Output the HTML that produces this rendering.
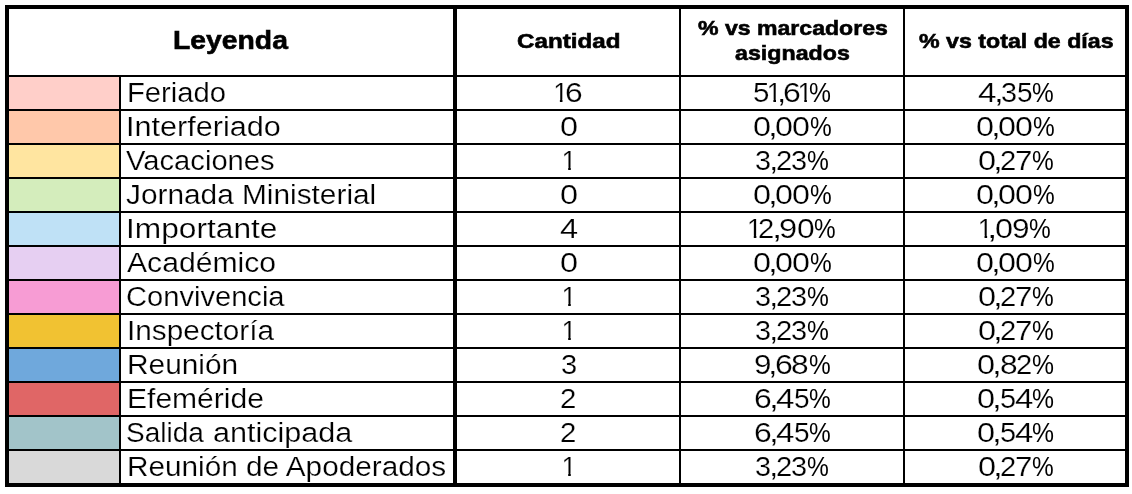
<!DOCTYPE html>
<html lang="es">
<head>
<meta charset="utf-8">
<title>Leyenda</title>
<style>
html,body{margin:0;padding:0;background:#fff}
body{width:1132px;height:494px;overflow:hidden;position:relative;font-family:"Liberation Sans", sans-serif;color:#000}
.g{position:absolute;background:#000}
.s{position:absolute;left:9px;width:110px;height:32px}
.t{position:absolute;white-space:nowrap;line-height:1;transform-origin:0 0;margin:0;padding:0}
.one{clip-path:polygon(0 0,100% 0,100% 19.8px,9.3px 19.8px,9.3px 100%,6.7px 100%,6.7px 19.8px,0 19.8px)}
.p{-webkit-text-stroke:0}
.n{position:absolute;left:0;width:0;height:0}
.b{font-size:27px;-webkit-text-stroke:0.2px #fff}
.hb{font-size:21px;font-weight:bold;-webkit-text-stroke:0.6px #000}
.hl{font-size:26px;font-weight:bold;-webkit-text-stroke:0.6px #000}
</style>
</head>
<body>
<div class="g" style="left:5px;top:5px;width:1124px;height:4px"></div>
<div class="g" style="left:5px;top:483px;width:1124px;height:4px"></div>
<div class="g" style="left:5px;top:5px;width:4px;height:482px"></div>
<div class="g" style="left:1125px;top:5px;width:4px;height:482px"></div>
<div class="g" style="left:119px;top:75px;width:2px;height:410px"></div>
<div class="g" style="left:453px;top:5px;width:4px;height:482px"></div>
<div class="g" style="left:679px;top:5px;width:2px;height:482px"></div>
<div class="g" style="left:903px;top:5px;width:2px;height:482px"></div>
<div class="g" style="left:5px;top:75px;width:1124px;height:2px"></div>
<div class="g" style="left:5px;top:109px;width:1124px;height:2px"></div>
<div class="g" style="left:5px;top:143px;width:1124px;height:2px"></div>
<div class="g" style="left:5px;top:177px;width:1124px;height:2px"></div>
<div class="g" style="left:5px;top:211px;width:1124px;height:2px"></div>
<div class="g" style="left:5px;top:245px;width:1124px;height:2px"></div>
<div class="g" style="left:5px;top:279px;width:1124px;height:2px"></div>
<div class="g" style="left:5px;top:313px;width:1124px;height:2px"></div>
<div class="g" style="left:5px;top:347px;width:1124px;height:2px"></div>
<div class="g" style="left:5px;top:381px;width:1124px;height:2px"></div>
<div class="g" style="left:5px;top:415px;width:1124px;height:2px"></div>
<div class="g" style="left:5px;top:449px;width:1124px;height:2px"></div>
<div class="s" style="top:77px;background:#FFCFC9"></div>
<div class="s" style="top:111px;background:#FFC8AA"></div>
<div class="s" style="top:145px;background:#FFE5A0"></div>
<div class="s" style="top:179px;background:#D4EDBC"></div>
<div class="s" style="top:213px;background:#BFE1F6"></div>
<div class="s" style="top:247px;background:#E6CFF2"></div>
<div class="s" style="top:281px;background:#F79CD4"></div>
<div class="s" style="top:315px;background:#F1C232"></div>
<div class="s" style="top:349px;background:#6FA8DC"></div>
<div class="s" style="top:383px;background:#E06666"></div>
<div class="s" style="top:417px;background:#A2C4C9"></div>
<div class="s" style="top:451px;background:#D9D9D9"></div>
<span class="t hl" style="left:172.60px;top:27.00px;transform:scaleX(1.0891)">Leyenda</span>
<span class="t hb" style="left:516.56px;top:30.40px;transform:scaleX(1.1510)">Cantidad</span>
<span class="t hb" style="left:697.56px;top:17.00px;transform:scaleX(1.0988)">% vs marcadores</span>
<span class="t hb" style="left:734.50px;top:42.00px;transform:scaleX(1.1054)">asignados</span>
<span class="t hb" style="left:918.50px;top:30.40px;transform:scaleX(1.1040)">% vs total de días</span>
<span class="t b" style="left:126.57px;top:80.00px;transform:scaleX(1.0816)">Feriado</span>
<span class="t b" style="left:125.55px;top:114.00px;transform:scaleX(1.1332)">Interferiado</span>
<span class="t b" style="left:125.60px;top:148.00px;transform:scaleX(1.0805)">Vacaciones</span>
<span class="t b" style="left:125.54px;top:182.00px;transform:scaleX(1.1042)">Jornada Ministerial</span>
<span class="t b" style="left:125.57px;top:216.00px;transform:scaleX(1.1731)">Importante</span>
<span class="t b" style="left:126.57px;top:250.00px;transform:scaleX(1.1159)">Académico</span>
<span class="t b" style="left:125.51px;top:284.00px;transform:scaleX(1.0780)">Convivencia</span>
<span class="t b" style="left:126.53px;top:318.00px;transform:scaleX(1.1002)">Inspectoría</span>
<span class="t b" style="left:126.54px;top:352.00px;transform:scaleX(1.1056)">Reunión</span>
<span class="t b" style="left:126.50px;top:386.00px;transform:scaleX(1.1127)">Efeméride</span>
<span class="t b" style="left:125.56px;top:420.00px;transform:scaleX(1.0376)">Salida </span><span class="t b" style="left:212.51px;top:420.00px;transform:scaleX(1.1318)">anticipada</span>
<span class="t b" style="left:126.57px;top:454.00px;transform:scaleX(1.1017)">Reunión de Apoderados</span>
<span class="n b" style="top:80.00px"><span class="t one" style="left:553.19px;top:0;transform:scaleX(1.0000)">1</span><span class="t" style="left:564.65px;top:0;transform:scaleX(1.1774)">6</span></span>
<span class="n b" style="top:80.00px"><span class="t" style="left:753.00px;top:0;transform:scaleX(1.0938)">5</span><span class="t one" style="left:766.69px;top:0;transform:scaleX(1.0000)">1</span><span class="t" style="left:776.72px;top:0;transform:scaleX(1.2308)">,</span><span class="t" style="left:783.44px;top:0;transform:scaleX(1.1855)">6</span><span class="t one" style="left:797.59px;top:0;transform:scaleX(1.0000)">1</span><span class="t p" style="left:809.09px;top:0;transform:scaleX(0.9136)">%</span></span>
<span class="n b" style="top:80.00px"><span class="t" style="left:978.16px;top:0;transform:scaleX(1.2279)">4</span><span class="t" style="left:994.03px;top:0;transform:scaleX(1.3077)">,</span><span class="t" style="left:1001.18px;top:0;transform:scaleX(1.0664)">3</span><span class="t" style="left:1016.66px;top:0;transform:scaleX(1.0391)">5</span><span class="t p" style="left:1031.70px;top:0;transform:scaleX(0.9045)">%</span></span>
<span class="n b" style="top:114.00px"><span class="t" style="left:559.68px;top:0;transform:scaleX(1.2016)">0</span></span>
<span class="n b" style="top:114.00px"><span class="t" style="left:752.63px;top:0;transform:scaleX(1.1977)">0</span><span class="t" style="left:768.03px;top:0;transform:scaleX(1.3077)">,</span><span class="t" style="left:774.89px;top:0;transform:scaleX(1.1938)">0</span><span class="t" style="left:792.39px;top:0;transform:scaleX(1.1938)">0</span><span class="t p" style="left:810.30px;top:0;transform:scaleX(0.9045)">%</span></span>
<span class="n b" style="top:114.00px"><span class="t" style="left:975.68px;top:0;transform:scaleX(1.1977)">0</span><span class="t" style="left:991.08px;top:0;transform:scaleX(1.3077)">,</span><span class="t" style="left:997.94px;top:0;transform:scaleX(1.1938)">0</span><span class="t" style="left:1015.44px;top:0;transform:scaleX(1.1938)">0</span><span class="t p" style="left:1033.35px;top:0;transform:scaleX(0.9045)">%</span></span>
<span class="n b" style="top:148.00px"><span class="t one" style="left:561.49px;top:0;transform:scaleX(1.0000)">1</span></span>
<span class="n b" style="top:148.00px"><span class="t" style="left:755.39px;top:0;transform:scaleX(1.0656)">3</span><span class="t" style="left:769.08px;top:0;transform:scaleX(1.2500)">,</span><span class="t" style="left:776.19px;top:0;transform:scaleX(1.0813)">2</span><span class="t" style="left:791.43px;top:0;transform:scaleX(1.0703)">3</span><span class="t p" style="left:806.99px;top:0;transform:scaleX(0.9091)">%</span></span>
<span class="n b" style="top:148.00px"><span class="t" style="left:977.58px;top:0;transform:scaleX(1.2016)">0</span><span class="t" style="left:992.93px;top:0;transform:scaleX(1.3077)">,</span><span class="t" style="left:999.99px;top:0;transform:scaleX(1.0813)">2</span><span class="t" style="left:1014.83px;top:0;transform:scaleX(1.1585)">7</span><span class="t p" style="left:1031.70px;top:0;transform:scaleX(0.9045)">%</span></span>
<span class="n b" style="top:182.00px"><span class="t" style="left:559.68px;top:0;transform:scaleX(1.2016)">0</span></span>
<span class="n b" style="top:182.00px"><span class="t" style="left:752.63px;top:0;transform:scaleX(1.1977)">0</span><span class="t" style="left:768.03px;top:0;transform:scaleX(1.3077)">,</span><span class="t" style="left:774.89px;top:0;transform:scaleX(1.1938)">0</span><span class="t" style="left:792.39px;top:0;transform:scaleX(1.1938)">0</span><span class="t p" style="left:810.30px;top:0;transform:scaleX(0.9045)">%</span></span>
<span class="n b" style="top:182.00px"><span class="t" style="left:975.68px;top:0;transform:scaleX(1.1977)">0</span><span class="t" style="left:991.08px;top:0;transform:scaleX(1.3077)">,</span><span class="t" style="left:997.94px;top:0;transform:scaleX(1.1938)">0</span><span class="t" style="left:1015.44px;top:0;transform:scaleX(1.1938)">0</span><span class="t p" style="left:1033.35px;top:0;transform:scaleX(0.9045)">%</span></span>
<span class="n b" style="top:216.00px"><span class="t" style="left:560.08px;top:0;transform:scaleX(1.2059)">4</span></span>
<span class="n b" style="top:216.00px"><span class="t one" style="left:747.09px;top:0;transform:scaleX(1.0000)">1</span><span class="t" style="left:758.19px;top:0;transform:scaleX(1.0813)">2</span><span class="t" style="left:772.09px;top:0;transform:scaleX(1.3654)">,</span><span class="t" style="left:779.43px;top:0;transform:scaleX(1.2097)">9</span><span class="t" style="left:796.60px;top:0;transform:scaleX(1.1783)">0</span><span class="t p" style="left:814.00px;top:0;transform:scaleX(0.9000)">%</span></span>
<span class="n b" style="top:216.00px"><span class="t one" style="left:977.84px;top:0;transform:scaleX(1.0000)">1</span><span class="t" style="left:987.04px;top:0;transform:scaleX(1.3846)">,</span><span class="t" style="left:995.08px;top:0;transform:scaleX(1.2016)">0</span><span class="t" style="left:1012.08px;top:0;transform:scaleX(1.1694)">9</span><span class="t p" style="left:1029.10px;top:0;transform:scaleX(0.9045)">%</span></span>
<span class="n b" style="top:250.00px"><span class="t" style="left:559.68px;top:0;transform:scaleX(1.2016)">0</span></span>
<span class="n b" style="top:250.00px"><span class="t" style="left:752.63px;top:0;transform:scaleX(1.1977)">0</span><span class="t" style="left:768.03px;top:0;transform:scaleX(1.3077)">,</span><span class="t" style="left:774.89px;top:0;transform:scaleX(1.1938)">0</span><span class="t" style="left:792.39px;top:0;transform:scaleX(1.1938)">0</span><span class="t p" style="left:810.30px;top:0;transform:scaleX(0.9045)">%</span></span>
<span class="n b" style="top:250.00px"><span class="t" style="left:975.68px;top:0;transform:scaleX(1.1977)">0</span><span class="t" style="left:991.08px;top:0;transform:scaleX(1.3077)">,</span><span class="t" style="left:997.94px;top:0;transform:scaleX(1.1938)">0</span><span class="t" style="left:1015.44px;top:0;transform:scaleX(1.1938)">0</span><span class="t p" style="left:1033.35px;top:0;transform:scaleX(0.9045)">%</span></span>
<span class="n b" style="top:284.00px"><span class="t one" style="left:561.49px;top:0;transform:scaleX(1.0000)">1</span></span>
<span class="n b" style="top:284.00px"><span class="t" style="left:755.39px;top:0;transform:scaleX(1.0656)">3</span><span class="t" style="left:769.08px;top:0;transform:scaleX(1.2500)">,</span><span class="t" style="left:776.19px;top:0;transform:scaleX(1.0813)">2</span><span class="t" style="left:791.43px;top:0;transform:scaleX(1.0703)">3</span><span class="t p" style="left:806.99px;top:0;transform:scaleX(0.9091)">%</span></span>
<span class="n b" style="top:284.00px"><span class="t" style="left:977.58px;top:0;transform:scaleX(1.2016)">0</span><span class="t" style="left:992.93px;top:0;transform:scaleX(1.3077)">,</span><span class="t" style="left:999.99px;top:0;transform:scaleX(1.0813)">2</span><span class="t" style="left:1014.83px;top:0;transform:scaleX(1.1585)">7</span><span class="t p" style="left:1031.70px;top:0;transform:scaleX(0.9045)">%</span></span>
<span class="n b" style="top:318.00px"><span class="t one" style="left:561.49px;top:0;transform:scaleX(1.0000)">1</span></span>
<span class="n b" style="top:318.00px"><span class="t" style="left:755.39px;top:0;transform:scaleX(1.0656)">3</span><span class="t" style="left:769.08px;top:0;transform:scaleX(1.2500)">,</span><span class="t" style="left:776.19px;top:0;transform:scaleX(1.0813)">2</span><span class="t" style="left:791.43px;top:0;transform:scaleX(1.0703)">3</span><span class="t p" style="left:806.99px;top:0;transform:scaleX(0.9091)">%</span></span>
<span class="n b" style="top:318.00px"><span class="t" style="left:977.58px;top:0;transform:scaleX(1.2016)">0</span><span class="t" style="left:992.93px;top:0;transform:scaleX(1.3077)">,</span><span class="t" style="left:999.99px;top:0;transform:scaleX(1.0813)">2</span><span class="t" style="left:1014.83px;top:0;transform:scaleX(1.1585)">7</span><span class="t p" style="left:1031.70px;top:0;transform:scaleX(0.9045)">%</span></span>
<span class="n b" style="top:352.00px"><span class="t" style="left:560.52px;top:0;transform:scaleX(1.0781)">3</span></span>
<span class="n b" style="top:352.00px"><span class="t" style="left:753.66px;top:0;transform:scaleX(1.1637)">9</span><span class="t" style="left:768.23px;top:0;transform:scaleX(1.2692)">,</span><span class="t" style="left:775.04px;top:0;transform:scaleX(1.1855)">6</span><span class="t" style="left:791.49px;top:0;transform:scaleX(1.1746)">8</span><span class="t p" style="left:808.70px;top:0;transform:scaleX(0.9045)">%</span></span>
<span class="n b" style="top:352.00px"><span class="t" style="left:976.88px;top:0;transform:scaleX(1.2016)">0</span><span class="t" style="left:992.13px;top:0;transform:scaleX(1.3077)">,</span><span class="t" style="left:999.69px;top:0;transform:scaleX(1.1746)">8</span><span class="t" style="left:1016.29px;top:0;transform:scaleX(1.0813)">2</span><span class="t p" style="left:1032.08px;top:0;transform:scaleX(0.9159)">%</span></span>
<span class="n b" style="top:386.00px"><span class="t" style="left:560.27px;top:0;transform:scaleX(1.0894)">2</span></span>
<span class="n b" style="top:386.00px"><span class="t" style="left:754.04px;top:0;transform:scaleX(1.1823)">6</span><span class="t" style="left:769.13px;top:0;transform:scaleX(1.3077)">,</span><span class="t" style="left:776.46px;top:0;transform:scaleX(1.2279)">4</span><span class="t" style="left:793.66px;top:0;transform:scaleX(1.0391)">5</span><span class="t p" style="left:808.70px;top:0;transform:scaleX(0.9045)">%</span></span>
<span class="n b" style="top:386.00px"><span class="t" style="left:976.88px;top:0;transform:scaleX(1.2016)">0</span><span class="t" style="left:992.13px;top:0;transform:scaleX(1.3077)">,</span><span class="t" style="left:999.52px;top:0;transform:scaleX(1.0703)">5</span><span class="t" style="left:1014.77px;top:0;transform:scaleX(1.2206)">4</span><span class="t p" style="left:1032.08px;top:0;transform:scaleX(0.9159)">%</span></span>
<span class="n b" style="top:420.00px"><span class="t" style="left:560.27px;top:0;transform:scaleX(1.0894)">2</span></span>
<span class="n b" style="top:420.00px"><span class="t" style="left:754.04px;top:0;transform:scaleX(1.1823)">6</span><span class="t" style="left:769.13px;top:0;transform:scaleX(1.3077)">,</span><span class="t" style="left:776.46px;top:0;transform:scaleX(1.2279)">4</span><span class="t" style="left:793.66px;top:0;transform:scaleX(1.0391)">5</span><span class="t p" style="left:808.70px;top:0;transform:scaleX(0.9045)">%</span></span>
<span class="n b" style="top:420.00px"><span class="t" style="left:976.88px;top:0;transform:scaleX(1.2016)">0</span><span class="t" style="left:992.13px;top:0;transform:scaleX(1.3077)">,</span><span class="t" style="left:999.52px;top:0;transform:scaleX(1.0703)">5</span><span class="t" style="left:1014.77px;top:0;transform:scaleX(1.2206)">4</span><span class="t p" style="left:1032.08px;top:0;transform:scaleX(0.9159)">%</span></span>
<span class="n b" style="top:454.00px"><span class="t one" style="left:561.49px;top:0;transform:scaleX(1.0000)">1</span></span>
<span class="n b" style="top:454.00px"><span class="t" style="left:755.39px;top:0;transform:scaleX(1.0656)">3</span><span class="t" style="left:769.08px;top:0;transform:scaleX(1.2500)">,</span><span class="t" style="left:776.19px;top:0;transform:scaleX(1.0813)">2</span><span class="t" style="left:791.43px;top:0;transform:scaleX(1.0703)">3</span><span class="t p" style="left:806.99px;top:0;transform:scaleX(0.9091)">%</span></span>
<span class="n b" style="top:454.00px"><span class="t" style="left:977.58px;top:0;transform:scaleX(1.2016)">0</span><span class="t" style="left:992.93px;top:0;transform:scaleX(1.3077)">,</span><span class="t" style="left:999.99px;top:0;transform:scaleX(1.0813)">2</span><span class="t" style="left:1014.83px;top:0;transform:scaleX(1.1585)">7</span><span class="t p" style="left:1031.70px;top:0;transform:scaleX(0.9045)">%</span></span>
</body>
</html>
